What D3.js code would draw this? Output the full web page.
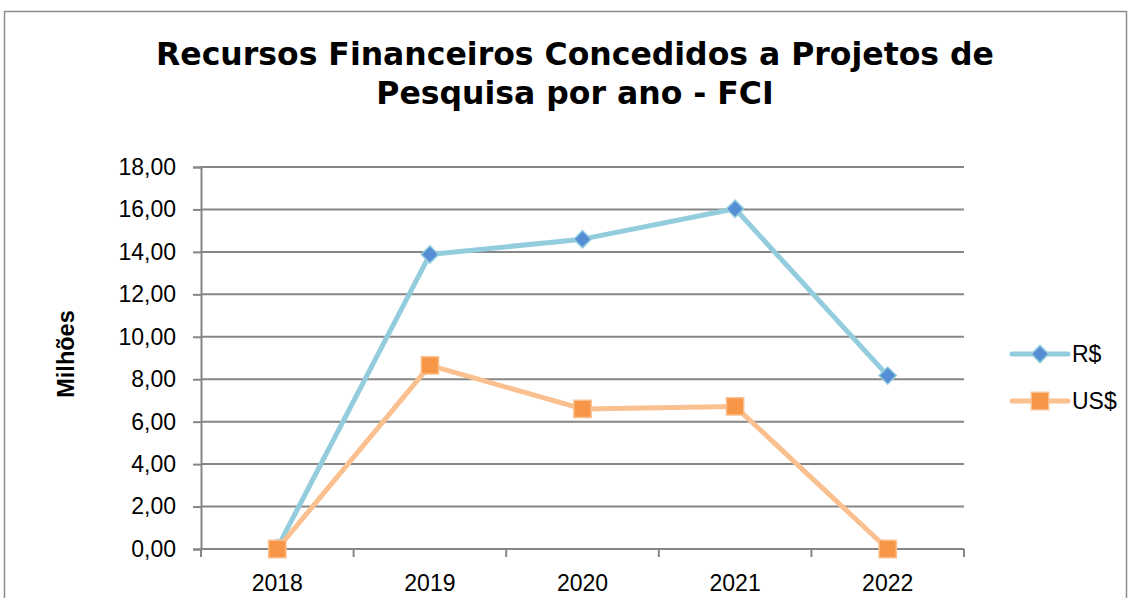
<!DOCTYPE html>
<html>
<head>
<meta charset="utf-8">
<title>Recursos Financeiros Concedidos a Projetos de Pesquisa por ano - FCI</title>
<style>
  body { margin: 0; background: #fff; }
</style>
</head>
<body>
<script src="https://cdn.jsdelivr.net/npm/d3@7/dist/d3.min.js"></script>
<script>
// dados (milhoes)
var anos = ["2018", "2019", "2020", "2021", "2022"];
var reais = [0.05, 13.88, 14.6, 16.03, 8.17];
var dolares = [0, 8.65, 6.6, 6.72, 0];
var ticksY = [0, 2, 4, 6, 8, 10, 12, 14, 16, 18];
var nomes = ["R$", "US$"];

var width = 1131, height = 598;
var margem = {left: 201, right: 167, top: 167, bottom: 49};
var fonte = "Liberation Sans, Arial, sans-serif";

var svg = d3.select("body").append("svg")
    .attr("width", width)
    .attr("height", height);

// moldura
svg.append("rect")
    .attr("x", 4.5).attr("y", 11.5)
    .attr("width", 1122).attr("height", 620)
    .attr("fill", "#fff")
    .attr("stroke", "#8c8c8c")
    .attr("stroke-width", 1.5);

var x = d3.scaleBand()
    .domain(anos)
    .range([margem.left, width - margem.right]);

var y = d3.scaleLinear()
    .domain([0, 18])
    .range([height - margem.bottom, margem.top]);

var fmt = function(d) { return d3.format(".2f")(d).replace(".", ","); };

// grade horizontal + eixo y
var eixoY = svg.append("g")
    .attr("transform", "translate(" + margem.left + ",0)")
    .call(d3.axisLeft(y).tickValues(ticksY).tickFormat(fmt).tickSize(8).tickPadding(17));
eixoY.select(".domain").attr("stroke", "#868686").attr("stroke-width", 2);
eixoY.selectAll(".tick line").attr("stroke", "#868686").attr("stroke-width", 2);
eixoY.selectAll(".tick text")
    .attr("font-family", fonte)
    .attr("font-size", 23)
    .attr("fill", "#000");

svg.append("g").selectAll("line")
    .data(ticksY)
    .join("line")
    .attr("x1", margem.left)
    .attr("x2", width - margem.right)
    .attr("y1", function(d) { return y(d); })
    .attr("y2", function(d) { return y(d); })
    .attr("stroke", "#868686")
    .attr("stroke-width", 2);

// eixo x
var eixoX = svg.append("g")
    .attr("transform", "translate(0," + y(0) + ")")
    .call(d3.axisBottom(x).tickSize(0).tickPadding(26));
eixoX.select(".domain").remove();
eixoX.selectAll(".tick text")
    .attr("font-family", fonte)
    .attr("font-size", 23)
    .attr("fill", "#000");

var limites = anos.map(function(a) { return x(a); }).concat([x(anos[anos.length - 1]) + x.bandwidth()]);
svg.append("g").selectAll("line")
    .data(limites)
    .join("line")
    .attr("x1", function(d) { return d; })
    .attr("x2", function(d) { return d; })
    .attr("y1", y(0))
    .attr("y2", y(0) + 8)
    .attr("stroke", "#868686")
    .attr("stroke-width", 2);

var cx = function(d, i) { return x(anos[i]) + x.bandwidth() / 2; };

var linha = d3.line()
    .x(function(d, i) { return cx(d, i); })
    .y(function(d) { return y(d); });

var series = [
  {nome: nomes[0], valores: reais, cor: "#93CDDD", marca: "#558ED5", rot: 45, tam: 150},
  {nome: nomes[1], valores: dolares, cor: "#FAC090", marca: "#F79646", rot: 0, tam: 300}
];

series.forEach(function(s) {
  svg.append("path")
      .datum(s.valores)
      .attr("d", linha)
      .attr("fill", "none")
      .attr("stroke", s.cor)
      .attr("stroke-width", 5)
      .attr("stroke-linejoin", "round");
});

series.forEach(function(s) {
  svg.append("g").selectAll("path")
      .data(s.valores)
      .join("path")
      .attr("transform", function(d, i) { return "translate(" + cx(d, i) + "," + y(d) + ") rotate(" + s.rot + ")"; })
      .attr("d", d3.symbol().type(d3.symbolSquare).size(s.tam))
      .attr("fill", s.marca)
      .attr("stroke", s.cor)
      .attr("stroke-width", 1.5);
});

// legenda
var leg = svg.append("g").selectAll("g")
    .data(series)
    .join("g")
    .attr("transform", function(d, i) { return "translate(1012," + (354 + i * 47) + ")"; });
leg.append("line")
    .attr("x1", 0).attr("x2", 56)
    .attr("stroke", function(d) { return d.cor; })
    .attr("stroke-width", 5)
    .attr("stroke-linecap", "round");
leg.append("path")
    .attr("transform", function(d) { return "translate(28,0) rotate(" + d.rot + ")"; })
    .attr("d", function(d) { return d3.symbol().type(d3.symbolSquare).size(d.tam)(); })
    .attr("fill", function(d) { return d.marca; })
    .attr("stroke", function(d) { return d.cor; })
    .attr("stroke-width", 1.5);
leg.append("text")
    .attr("x", 60)
    .attr("dy", "0.36em")
    .attr("font-family", fonte)
    .attr("font-size", 23)
    .text(function(d) { return d.nome; });

// titulo do eixo y
svg.append("text")
    .attr("transform", "translate(74,354) rotate(-90)")
    .attr("text-anchor", "middle")
    .attr("font-family", fonte)
    .attr("font-weight", "bold")
    .attr("font-size", 23.5)
    .text("Milhões");

// titulo
var titulo = svg.append("text")
    .attr("text-anchor", "middle")
    .attr("font-family", "DejaVu Sans, Verdana, sans-serif")
    .attr("font-weight", "bold")
    .attr("font-size", 31.5);
titulo.append("tspan").attr("x", 575).attr("y", 65).text("Recursos Financeiros Concedidos a Projetos de");
titulo.append("tspan").attr("x", 575).attr("y", 104).text("Pesquisa por ano - FCI");
</script>
</body>
</html>
